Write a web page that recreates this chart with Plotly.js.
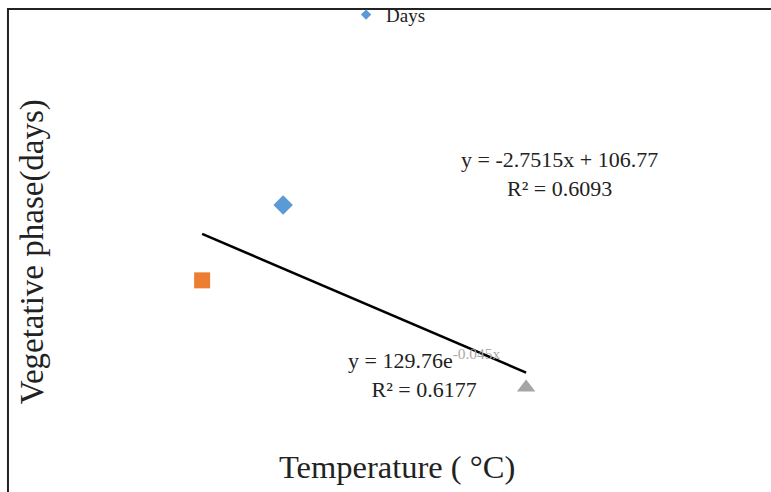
<!DOCTYPE html>
<html>
<head>
<meta charset="utf-8">
<script src="https://cdn.plot.ly/plotly-3.0.1.min.js"></script>
<style>html,body{margin:0;padding:0;background:#fff;}#chart{width:771px;height:492px;}</style>
</head>
<body>
<div id="chart"></div>
<script>
// Data (temperature in °C, vegetative phase in days)
const seriesName = 'Days';
const temps = [22, 18, 34];
const days = [66.4, 42.5, 8.5];
const markerSymbols = ['diamond', 'square', 'triangle-up'];
const markerColors = ['#5B9BD5', '#ED7D31', '#A5A5A5'];
// Axis titles
const xTitle = 'Temperature ( °C)';
const yTitle = 'Vegetative phase(days)';
// Trend line coefficients shown on the chart
const linSlope = -2.7515;
const linIntercept = 106.77;
const linR2 = 0.6093;
const expA = 129.76;
const expB = '-0.045x';
const expR2 = 0.6177;

const serif = '"Liberation Serif", "Times New Roman", serif';
const traces = temps.map((t, i) => ({
  x: [t], y: [days[i]], type: 'scatter', mode: 'markers',
  name: seriesName, showlegend: false,
  marker: {symbol: markerSymbols[i], color: markerColors[i], size: i === 0 ? 15 : 16}
}));
// legend entry (small marker, like the reference)
traces.push({x: [null], y: [null], type: 'scatter', mode: 'markers', name: seriesName,
  showlegend: true, marker: {symbol: markerSymbols[0], color: markerColors[0], size: 8}});
const xMin = Math.min(...temps), xMax = Math.max(...temps);
traces.push({
  x: [xMin, xMax], y: [linSlope * xMin + linIntercept, linSlope * xMax + linIntercept],
  type: 'scatter', mode: 'lines', showlegend: false, hoverinfo: 'skip',
  line: {color: '#000', width: 2.5}
});

const layout = {
  width: 771, height: 492,
  margin: {l: 60, r: 6, t: 30, b: 47},
  paper_bgcolor: '#fff', plot_bgcolor: '#fff',
  font: {family: serif, color: '#222'},
  showlegend: true,
  legend: {orientation: 'h', xref: 'container', yref: 'container', x: 0.504, xanchor: 'center',
           y: 0.97, yanchor: 'middle', itemwidth: 30,
           font: {size: 19, family: serif, color: '#222'}, bgcolor: 'rgba(0,0,0,0)'},
  xaxis: {range: [10.98, 45.8], showgrid: false, zeroline: false, showticklabels: false, ticks: '',
          showline: false},
  yaxis: {range: [-9.75, 120.75], showgrid: false, zeroline: false, showticklabels: false, ticks: '',
          showline: false},
  shapes: [
    {type: 'line', xref: 'paper', yref: 'paper', x0: -0.0752, x1: 1.02, y0: 1.06, y1: 1.06,
     line: {color: '#222', width: 2}},
    {type: 'line', xref: 'paper', yref: 'paper', x0: -0.0738, x1: -0.0738, y0: 1.06, y1: -0.12,
     line: {color: '#222', width: 2}}
  ],
  annotations: [
    {xref: 'paper', yref: 'paper', x: 0.478, y: -0.103, text: xTitle, showarrow: false,
     font: {size: 32.5, family: serif, color: '#222'}},
    {xref: 'paper', yref: 'paper', x: -0.068, y: 0.47, text: yTitle, showarrow: false, textangle: -90,
     font: {size: 33, family: serif, color: '#222'}},
    {xref: 'x', yref: 'y', x: 35.63, y: 76.3, text: 'y = ' + linSlope + 'x + ' + linIntercept + '<br>R² = ' + linR2,
     showarrow: false, font: {size: 22, family: serif, color: '#222'}, align: 'center'},
    {xref: 'x', yref: 'y', x: 28.95, y: 13.0,
     text: 'y = ' + expA + 'e<sup><span style="color:#aaa">' + expB + '</span></sup><br>R² = ' + expR2,
     showarrow: false, font: {size: 22, family: serif, color: '#222'}, align: 'center'}
  ]
};
Plotly.newPlot('chart', traces, layout, {displayModeBar: false, staticPlot: true});
</script>
</body>
</html>
